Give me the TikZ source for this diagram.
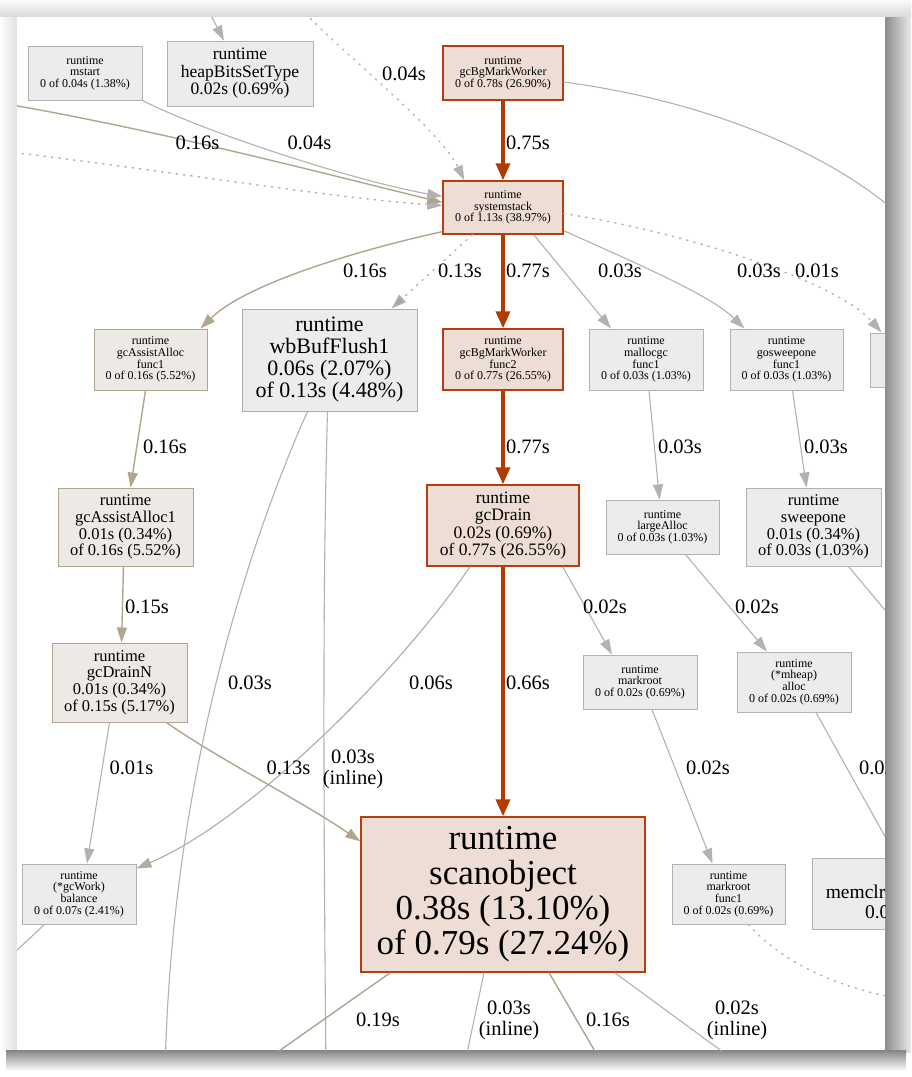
\documentclass[tikz,border=0pt]{standalone}
\usepackage{fontspec}
\setmainfont{Liberation Serif}
\usetikzlibrary{arrows.meta,calc}

\definecolor{gfill}{RGB}{237,236,236}
\definecolor{gline}{RGB}{178,178,178}
\definecolor{tfill}{RGB}{237,234,230}
\definecolor{tline}{RGB}{178,165,143}
\definecolor{rfill}{RGB}{237,221,213}
\definecolor{rline}{RGB}{180,62,14}
\definecolor{hotedge}{RGB}{178,60,0}
\definecolor{tanedge}{RGB}{178,165,143}
\definecolor{grayedge}{RGB}{178,178,178}

\tikzset{
  fn/.style={draw, rectangle, inner sep=0pt, align=center, line width=1pt},
  gnode/.style={fn, fill=gfill, draw=gline},
  tnode/.style={fn, fill=tfill, draw=tline},
  rnode/.style={fn, fill=rfill, draw=rline, line width=1.3pt},
  box/.style 2 args={minimum width=#1pt, minimum height=#2pt},
  small/.style={font=\fontsize{12}{11.6}\selectfont},
  midA/.style={font=\fontsize{16.5}{16.7}\selectfont},
  midB/.style={font=\fontsize{17.5}{17.5}\selectfont},
  midC/.style={font=\fontsize{19.5}{20}\selectfont},
  big/.style={font=\fontsize{22}{22}\selectfont},
  huge/.style={font=\fontsize{35}{35}\selectfont},
  lbl/.style={font=\fontsize{20.5}{21}\selectfont, align=center, inner sep=0pt},
  hot/.style={draw=hotedge, line width=3.5pt, -{Triangle[length=17pt,width=14pt]}},
  tanln/.style={draw=tanedge, line width=1.4pt, -{Triangle[length=15pt,width=10pt]}},
  grayln/.style={draw=grayedge, line width=1.1pt, -{Triangle[length=15pt,width=10pt]}},
  dotln/.style={draw=grayedge, line width=1.4pt, dash pattern=on 1.4pt off 6pt, line cap=round,
    -{Triangle[length=15pt,width=10pt]}}
}

\begin{document}
\begin{tikzpicture}[x=1pt,y=-1pt]
  \useasboundingbox (0,0) rectangle (911,1077);
  % window shadow
  \shade[top color=black!2, bottom color=black!15] (0,0) rectangle (911,17);
  \shade[left color=white, right color=black!12] (0,17) rectangle (17,1050);
  \shade[left color=black!45, right color=black!8] (885,17) rectangle (911,1052);
  \shade[top color=black!48, bottom color=white] (6,1050) rectangle (906,1071);
  \fill[white] (17,17) rectangle (885,1050);

  \begin{scope}
  \clip (17,17) rectangle (885,1050);

  % nodes
  \node[gnode, box={114}{54}, small] (mstart) at (85,73) {runtime\\mstart\\0 of 0.04s (1.38\%)};
  \node[gnode, box={146}{65}, midB] (heap) at (240,73.5) {runtime\\heapBitsSetType\\0.02s (0.69\%)};
  \node[rnode, box={120}{54}, small] (bgmw) at (503,73) {runtime\\gcBgMarkWorker\\0 of 0.78s (26.90\%)};
  \node[rnode, box={120}{53}, small] (sys) at (503,207.5) {runtime\\systemstack\\0 of 1.13s (38.97\%)};

  \node[tnode, box={113}{61}, small] (assistf) at (150.5,359.5) {runtime\\gcAssistAlloc\\func1\\0 of 0.16s (5.52\%)};
  \node[gnode, draw={rgb,255:red,178;green,172;blue,160}, box={175}{102}, big] (wbflush) at (329.5,360)
    {runtime\\wbBufFlush1\\0.06s (2.07\%)\\of 0.13s (4.48\%)};
  \node[rnode, box={120}{61}, small] (bgmwf) at (503,359.5) {runtime\\gcBgMarkWorker\\func2\\0 of 0.77s (26.55\%)};
  \node[gnode, box={114}{61}, small] (mallocf) at (646,359.5) {runtime\\mallocgc\\func1\\0 of 0.03s (1.03\%)};
  \node[gnode, box={113}{61}, small] (gosweepf) at (786.5,359.5) {runtime\\gosweepone\\func1\\0 of 0.03s (1.03\%)};
  \node[gnode, box={114}{54}] (rnode) at (927,360) {};

  \node[tnode, box={135}{78}, midA] (assist1) at (125.5,527) {runtime\\gcAssistAlloc1\\0.01s (0.34\%)\\of 0.16s (5.52\%)};
  \node[rnode, box={152}{81}, midB] (drain) at (503,525.5) {runtime\\gcDrain\\0.02s (0.69\%)\\of 0.77s (26.55\%)};
  \node[gnode, box={113}{54}, small] (largealloc) at (662.5,527) {runtime\\largeAlloc\\0 of 0.03s (1.03\%)};
  \node[gnode, box={135}{78}, midA] (sweepone) at (813.5,527) {runtime\\sweepone\\0.01s (0.34\%)\\of 0.03s (1.03\%)};

  \node[tnode, box={135}{79}, midA] (drainN) at (119.5,682.5) {runtime\\gcDrainN\\0.01s (0.34\%)\\of 0.15s (5.17\%)};
  \node[gnode, box={114}{54}, small] (markroot) at (640,682) {runtime\\markroot\\0 of 0.02s (0.69\%)};
  \node[gnode, box={114}{60}, small] (mheap) at (794,682) {runtime\\(*mheap)\\alloc\\0 of 0.02s (0.69\%)};

  \node[gnode, box={114}{60}, small] (balance) at (79,894) {runtime\\(*gcWork)\\balance\\0 of 0.07s (2.41\%)};
  \node[rnode, box={284}{155}, huge] (scan) at (503,894.5) {runtime\\scanobject\\0.38s (13.10\%)\\of 0.79s (27.24\%)};
  \node[gnode, box={113}{60}, small] (markrootf) at (728.5,894) {runtime\\markroot\\func1\\0 of 0.02s (0.69\%)};
  \node[gnode, box={216}{71}, midC] (memclr) at (920,894) {runtime\\memclrNoHeapPointers\\0.02s (0.69\%)};

  % free ends
  \coordinate (hIn) at (203,0);
  \coordinate (tIn) at (300,8);
  \coordinate (lIn) at (0,103);
  \coordinate (dIn) at (0,151);
  \coordinate (rOut) at (905,220);
  \coordinate (swOut) at (910,640);
  \coordinate (balOut) at (0,966);
  \coordinate (wbOutA) at (165,1077);
  \coordinate (wbOutB) at (326,1077);
  \coordinate (scOutA) at (242,1077);
  \coordinate (scOutB) at (462,1077);
  \coordinate (scOutC) at (610,1077);
  \coordinate (scOutD) at (757,1077);
  \coordinate (mfOut) at (895,998);

  % edges
  \draw[grayln] (hIn) -- ($(heap.north)+(-16,0)$);
  \draw[dotln] (tIn) .. controls (350,60) and (440,130) .. ($(sys.north west)+(22,0)$);
  \draw[dotln] (dIn) .. controls (150,168) and (330,198) .. ($(sys.west)+(0,-2)$);
  \draw[tanln] (lIn) .. controls (150,128) and (330,175) .. ($(sys.west)+(0,-5)$);
  \draw[grayln] (mstart.south east) .. controls (200,130) and (350,180) .. ($(sys.west)+(0,-11)$);
  \draw[hot] (bgmw) -- (sys);
  \draw[grayedge, line width=1.1pt] ($(bgmw.east)+(0,9)$) .. controls (700,100) and (830,150) .. (rOut);

  \draw[tanln] ($(sys.south west)+(0,-3)$) .. controls (380,245) and (250,280) .. ($(assistf.north)+(50,0)$);
  \draw[dotln, -{Triangle[length=15pt,width=10pt,fill=tanedge]}] ($(sys.south west)+(30,0)$) -- ($(wbflush.north)+(62,0)$);
  \draw[hot] (sys) -- (bgmwf);
  \draw[grayln] ($(sys.south east)+(-30,0)$) -- ($(mallocf.north)+(-35,0)$);
  \draw[grayln] ($(sys.south east)+(0,-4)$) .. controls (640,265) and (710,295) .. ($(gosweepf.north)+(-42,0)$);
  \draw[dotln] ($(sys.east)+(0,6)$) .. controls (700,235) and (840,285) .. ($(rnode.north west)+(12,0)$);

  \draw[tanln] ($(assistf.south)+(-5,0)$) -- ($(assist1.north)+(5,0)$);
  \draw[hot] (bgmwf) -- (drain);
  \draw[grayln] ($(mallocf.south)+(3,0)$) -- ($(largealloc.north)+(-3,0)$);
  \draw[grayln] ($(gosweepf.south)+(6,0)$) -- ($(sweepone.north)+(-7,0)$);

  \draw[tanln] ($(assist1.south)+(-2,0)$) -- ($(drainN.north)+(2,0)$);
  \draw[grayln] ($(drain.south east)+(-17,0)$) -- ($(markroot.north)+(-28,0)$);
  \draw[grayln, draw={rgb,255:red,178;green,172;blue,160}] ($(drain.south)+(-33,0)$) .. controls (400,670) and (250,820) .. ($(balance.north east)+(0,5)$);
  \draw[hot] (drain) -- (scan);
  \draw[grayln] ($(largealloc.south)+(23,0)$) -- ($(mheap.north)+(-27,0)$);
  \draw[grayedge, line width=1.1pt] ($(sweepone.south)+(35,0)$) -- (swOut);

  \draw[grayln] ($(drainN.south)+(-10,0)$) -- ($(balance.north)+(8,0)$);
  \draw[tanln] ($(drainN.south east)+(-21,0)$) .. controls (220,760) and (300,800) .. ($(scan.north west)+(0,25)$);
  \draw[grayedge, line width=1.1pt] ($(wbflush.south)+(-22,0)$) .. controls (250,540) and (170,780) .. (wbOutA);
  \draw[grayedge, line width=1.1pt] ($(wbflush.south)+(-2,0)$) .. controls (322,600) and (324,850) .. (wbOutB);
  \draw[grayln] ($(markroot.south)+(12,0)$) -- ($(markrootf.north)+(-16,0)$);
  \draw[grayln] ($(mheap.south)+(22,0)$) -- ($(memclr.north)+(-23,0)$);

  \draw[grayedge, line width=1.1pt] ($(balance.south west)+(23,0)$) -- (balOut);
  \draw[tanedge, line width=1.4pt] ($(scan.south west)+(30,0)$) -- (scOutA);
  \draw[grayedge, line width=1.1pt] ($(scan.south)+(-19,0)$) -- (scOutB);
  \draw[tanedge, line width=1.4pt] ($(scan.south)+(46,0)$) -- (scOutC);
  \draw[grayedge, line width=1.1pt] ($(scan.south east)+(-31,0)$) -- (scOutD);
  \draw[grayedge, line width=1.4pt, dash pattern=on 1.4pt off 6pt, line cap=round]
    ($(markrootf.south)+(20,0)$) .. controls (780,960) and (830,985) .. (mfOut);

  % edge labels
  \node[lbl] (lbTop) at (404,74) {0.04s};
  \node[lbl] (lbLeft) at (197.5,143) {0.16s};
  \node[lbl] (lbMst) at (309.5,143) {0.04s};
  \node[lbl] (lbBgm) at (528,143) {0.75s};
  \node[lbl] (lbAsf) at (365,271) {0.16s};
  \node[lbl] (lbWbf) at (460,271) {0.13s};
  \node[lbl] (lbBgf) at (528,271) {0.77s};
  \node[lbl] (lbMaf) at (620,271) {0.03s};
  \node[lbl] (lbGsf) at (759,271) {0.03s};
  \node[lbl] (lbRn) at (817,271) {0.01s};
  \node[lbl] (lbAs1) at (165,447) {0.16s};
  \node[lbl] (lbDr) at (528,447) {0.77s};
  \node[lbl] (lbLa) at (680,447) {0.03s};
  \node[lbl] (lbSw) at (826,447) {0.03s};
  \node[lbl] (lbDn) at (147,607) {0.15s};
  \node[lbl] (lbMr) at (605,607) {0.02s};
  \node[lbl] (lbMh) at (757,607) {0.02s};
  \node[lbl] (lbWbA) at (250,683) {0.03s};
  \node[lbl] (lbBal) at (431,683) {0.06s};
  \node[lbl] (lbScan) at (528,683) {0.66s};
  \node[lbl] (lbDnB) at (131.5,768) {0.01s};
  \node[lbl] (lbDnS) at (288.5,768) {0.13s};
  \node[lbl] (lbWbB) at (353,769) {0.03s\\(inline)};
  \node[lbl] (lbMrf) at (708,768) {0.02s};
  \node[lbl] (lbMc) at (881,768) {0.02s};
  \node[lbl] (lbScA) at (378,1020) {0.19s};
  \node[lbl] (lbScB) at (509,1020) {0.03s\\(inline)};
  \node[lbl] (lbScC) at (608,1020) {0.16s};
  \node[lbl] (lbScD) at (737,1020) {0.02s\\(inline)};
  \end{scope}
\end{tikzpicture}
\end{document}
